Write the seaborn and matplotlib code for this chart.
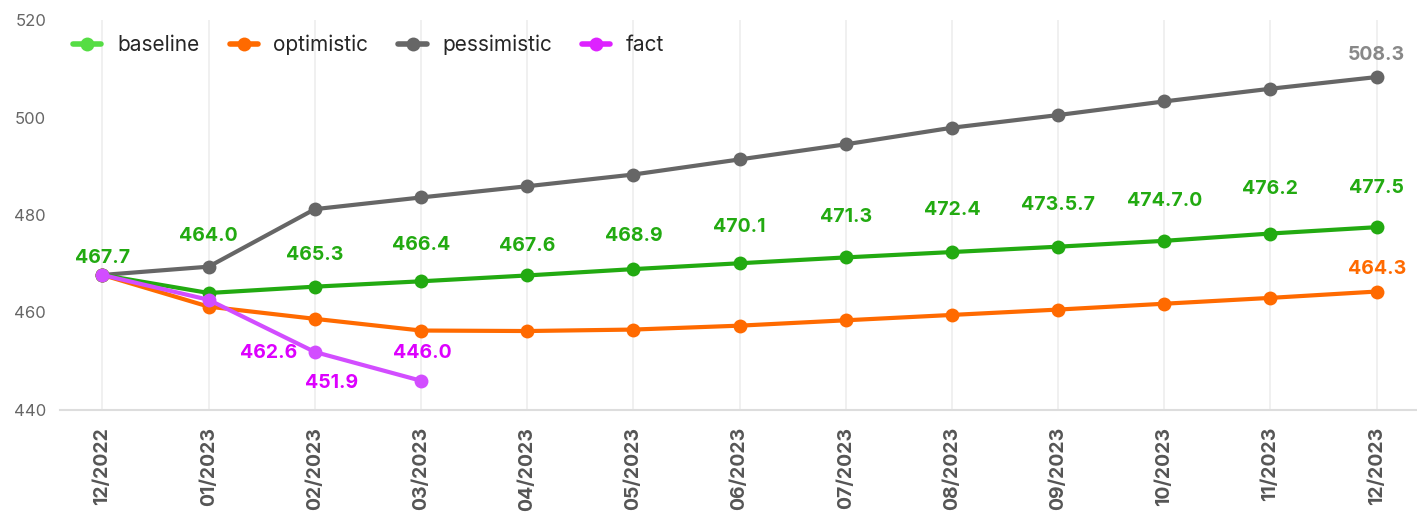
import pandas as pd
import seaborn as sns
import matplotlib.pyplot as plt
from matplotlib.lines import Line2D

months = ["12/2022", "01/2023", "02/2023", "03/2023", "04/2023", "05/2023", "06/2023",
          "07/2023", "08/2023", "09/2023", "10/2023", "11/2023", "12/2023"]
baseline = [467.7, 464.0, 465.3, 466.4, 467.6, 468.9, 470.1, 471.3, 472.4, 473.5, 474.7, 476.2, 477.5]
baseline_labels = ["467.7", "464.0", "465.3", "466.4", "467.6", "468.9", "470.1",
                   "471.3", "472.4", "473.5.7", "474.7.0", "476.2", "477.5"]
optimistic = [467.7, 461.2, 458.7, 456.3, 456.2, 456.5, 457.3, 458.4, 459.5, 460.6, 461.8, 463.0, 464.3]
pessimistic = [467.7, 469.4, 481.2, 483.6, 485.9, 488.3, 491.4, 494.5, 497.9, 500.5, 503.3, 505.9, 508.3]
fact = [467.7, 462.6, 451.9, 446.0]

sns.set_style("white")
plt.rcParams['font.family'] = ['Inter', 'DejaVu Sans']

x = list(range(len(months)))
fig = plt.figure(figsize=(14.17, 5.15), dpi=100)
ax = fig.add_axes([60 / 1417, 1 - 410 / 515, 1 - 60 / 1417, 390 / 515])

series = [
    ("pessimistic", pessimistic, "#666666"),
    ("optimistic", optimistic, "#ff6a00"),
    ("baseline", baseline, "#22aa11"),
    ("fact", fact, "#d24dff"),
]
for name, vals, col in series:
    sns.lineplot(x=x[:len(vals)], y=vals, ax=ax, color=col, linewidth=3,
                 marker="o", markersize=10, markeredgewidth=0, zorder=3)

# legend
handles = [Line2D([], [], color=c, lw=4, marker="o", markersize=10, markeredgewidth=0)
           for c in ["#55dd44", "#ff6a00", "#666666", "#dd22ff"]]
ax.legend(handles, ["baseline", "optimistic", "pessimistic", "fact"], ncol=4, frameon=False,
          loc="upper left", bbox_to_anchor=(-0.004, 1.01), fontsize=15, handlelength=1.35,
          handletextpad=0.75, columnspacing=1.45)

# value labels
lab_font = dict(fontsize=14, fontweight="bold", ha="center", va="center")
base_off = [12, 41, 23, 26, 21, 24, 26, 29, 30, 30, 29, 32, 28]
for i, (v, t) in enumerate(zip(baseline, baseline_labels)):
    ax.annotate(t, (i, v), xytext=(0, base_off[i]), textcoords="offset points",
                color="#22aa11", **lab_font)
ax.annotate("464.3", (12, optimistic[-1]), xytext=(0, 16), textcoords="offset points",
            color="#ff6a00", **lab_font)
ax.annotate("508.3", (12, pessimistic[-1]), xytext=(0, 16), textcoords="offset points",
            color="#888888", **lab_font)
ax.annotate("462.6", (1, fact[1]), xytext=(43, -38), textcoords="offset points",
            color="#dd00ff", **lab_font)
ax.annotate("451.9", (2, fact[2]), xytext=(12, -22), textcoords="offset points",
            color="#dd00ff", **lab_font)
ax.annotate("446.0", (3, fact[3]), xytext=(1, 20), textcoords="offset points",
            color="#dd00ff", **lab_font)

ax.set_ylim(440, 520)
ax.set_xlim(-0.4, 12.38)
ax.set_yticks([440, 460, 480, 500, 520])
ax.set_xticks(x)
ax.set_xticklabels(months, rotation=90, fontweight="bold", fontsize=14, color="#555555", va="top")
ax.tick_params(axis="y", colors="#666666", labelsize=12, length=0, pad=10)
ax.tick_params(axis="x", length=0, pad=12)
ax.grid(axis="x", color="#eeeeee", linewidth=1.2)
ax.grid(axis="y", visible=False)
for s in ["top", "right", "left"]:
    ax.spines[s].set_visible(False)
ax.spines["bottom"].set_color("#dddddd")
ax.spines["bottom"].set_linewidth(1.5)

fig.savefig("out.png", dpi=100)
